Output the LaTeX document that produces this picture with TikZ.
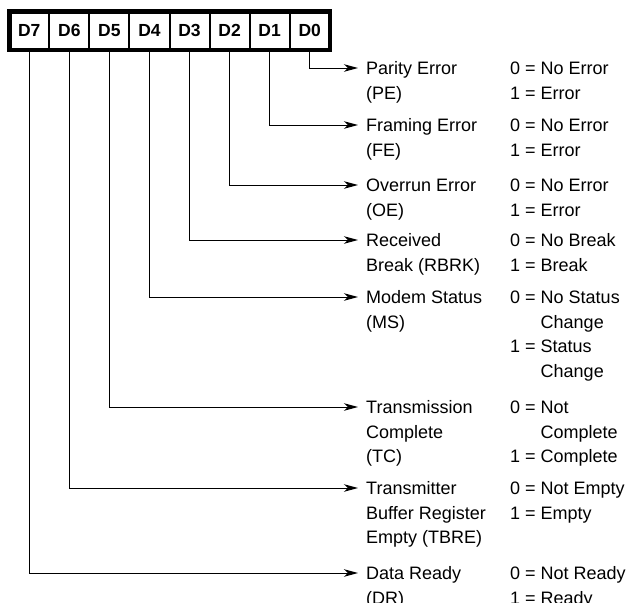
\documentclass[tikz,border=0pt]{standalone}
\usepackage{fontspec}
\setmainfont{Liberation Sans}
\usetikzlibrary{positioning,arrows.meta}

\begin{document}
\begin{tikzpicture}[x=1pt,y=-1pt]

% definiciones

% marco de la figura
\clip (0,0) rectangle (630,603);

% estilos de celdas, textos y flechas
\tikzstyle{celda}  = [draw=black,line width=2pt,minimum width=40.06pt,minimum height=38.5pt,inner sep=0pt,outer sep=0pt,font=\bfseries\fontsize{17.5}{17.5}\selectfont]
\tikzstyle{texto}  = [anchor=base west,inner sep=0pt,font=\fontsize{18}{24.7}\selectfont]
\tikzstyle{flecha} = [line width=1pt,-{Stealth[length=14pt,width=7.5pt,inset=4pt]}]

% sangria de las lineas de continuacion
\newcommand{\sangria}{\hphantom{0 = }}

% campo del registro
% #1: celda del bit
% #2: altura de la flecha
% #3: nombre del campo
% #4: descripcion del campo
% #5: valores del campo
\newcommand{\campo}[5]{
	\coordinate (f#3) at (358,#2); % punta de la flecha
	\node [texto] (#3) at (366,#2+6.4) {\begin{tabular}[t]{@{}l@{}}#4\end{tabular}};
	\node [texto] (v#3) at (510,#2+6.4) {\begin{tabular}[t]{@{}l@{}}#5\end{tabular}};
	\draw [flecha] (#1.south) |- (f#3);
}

% registro
\node [celda] (d7) at (29.3,30.5) {D7};
\node [celda,right=0pt of d7] (d6) {D6};
\node [celda,right=0pt of d6] (d5) {D5};
\node [celda,right=0pt of d5] (d4) {D4};
\node [celda,right=0pt of d4] (d3) {D3};
\node [celda,right=0pt of d3] (d2) {D2};
\node [celda,right=0pt of d2] (d1) {D1};
\node [celda,right=0pt of d1] (d0) {D0};
\draw [line width=4.5pt] (d7.north west) rectangle (d0.south east);

% campos
\campo{d0}{68}{pe}{Parity Error\\(PE)}{0 = No Error\\1 = Error}
\campo{d1}{125}{fe}{Framing Error\\(FE)}{0 = No Error\\1 = Error}
\campo{d2}{185}{oe}{Overrun Error\\(OE)}{0 = No Error\\1 = Error}
\campo{d3}{240}{rbrk}{Received\\Break (RBRK)}{0 = No Break\\1 = Break}
\campo{d4}{297}{ms}{Modem Status\\(MS)}{0 = No Status\\\sangria Change\\1 = Status\\\sangria Change}
\campo{d5}{407}{tc}{Transmission\\Complete\\(TC)}{0 = Not\\\sangria Complete\\1 = Complete}
\campo{d6}{488}{tbre}{Transmitter\\Buffer Register\\Empty (TBRE)}{0 = Not Empty\\1 = Empty}
\campo{d7}{573}{dr}{Data Ready\\(DR)}{0 = Not Ready\\1 = Ready}

\end{tikzpicture}
\end{document}
